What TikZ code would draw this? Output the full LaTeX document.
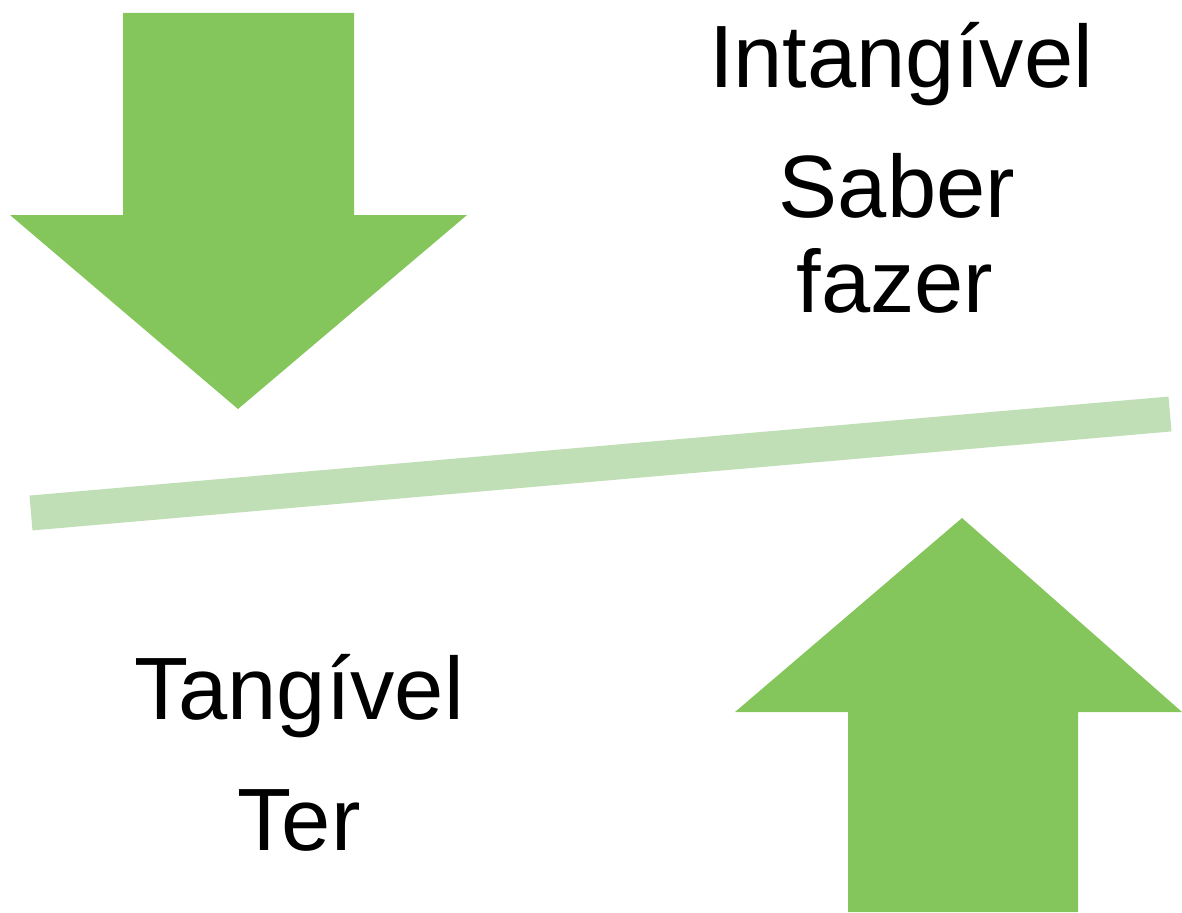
\documentclass[tikz,border=0pt]{standalone}
\usepackage{fontspec}
\setmainfont{Liberation Sans}
\definecolor{arrowgreen}{RGB}{132,197,92}
\definecolor{linegreen}{RGB}{193,223,182}
\begin{document}
\begin{tikzpicture}[x=1pt,y=-1pt,
  arrowshape/.style={fill=arrowgreen,draw=none},
  lbl/.style={anchor=base,inner sep=0pt,font=\fontsize{88.5}{100}\selectfont,text=black}]
\useasboundingbox (0,0) rectangle (1182,912);
% down arrow
\fill[arrowshape] (123,13) -- (354,13) -- (354,215) -- (467,215) -- (238,409) -- (10,215) -- (123,215) -- cycle;
% up arrow
\fill[arrowshape] (848,912) -- (1078,912) -- (1078,712) -- (1182,712) -- (962,518) -- (735,712) -- (848,712) -- cycle;
% divider line
\coordinate (la) at (31,513);
\coordinate (lb) at (1170,414);
\draw[linegreen,line width=35pt] (la) -- (lb);
% labels
\node[lbl] (intang) at (901,88) {Intangível};
\node[lbl] (saber) at (897,217) {Saber};
\node[lbl] (fazer) at (895,312) {fazer};
\node[lbl] (tang) at (299,719) {Tangível};
\node[lbl] (ter) at (299,850) {Ter};
\end{tikzpicture}
\end{document}
